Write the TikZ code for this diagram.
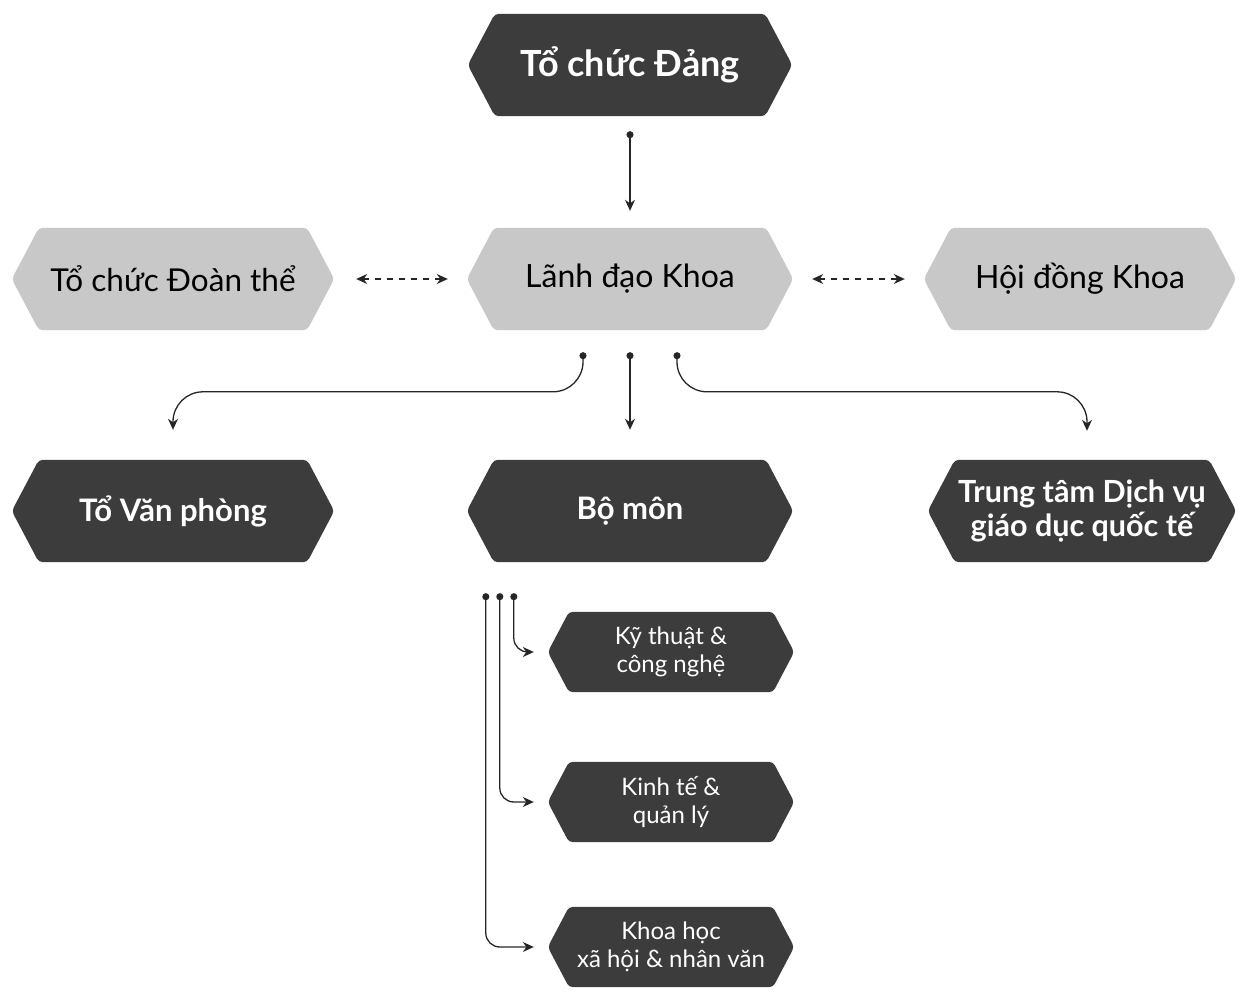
\documentclass[tikz,border=0pt]{standalone}
\usepackage{fontspec}
\setmainfont{Lato}
\usetikzlibrary{arrows.meta,backgrounds}
\definecolor{darkbox}{HTML}{3C3C3C}
\definecolor{lightbox}{HTML}{C8C8C8}
\definecolor{lineclr}{HTML}{262626}
\tikzset{
  darktxt/.style={text=white, font=\bfseries, align=center, inner sep=0pt},
  lighttxt/.style={text=black, align=center, inner sep=0pt},
  smalltxt/.style={text=white, align=center, inner sep=0pt, font=\fontsize{24}{28}\selectfont},
  conn/.style={draw=lineclr, line width=1.3pt, {Circle[length=7pt]}-{Stealth[length=11pt,width=10pt]}},
  dconn/.style={draw=lineclr, line width=1.3pt, dash pattern=on 6pt off 6pt, {Stealth[length=11pt,width=10pt]}-{Stealth[length=11pt,width=10pt]}}
}
% style, name, cx, cy, w, h, fill, text
\newcommand\hexnode[8]{%
  \node[#1, minimum width=#5pt, minimum height=#6pt] (#2) at (#3,#4) {#8};
  \begin{scope}[on background layer]
    \fill[#7, rounded corners=4pt] (#2.west) -- ([xshift={0.265*#6}]#2.north west) -- ([xshift={-0.265*#6}]#2.north east) -- (#2.east) -- ([xshift={-0.265*#6}]#2.south east) -- ([xshift={0.265*#6}]#2.south west) -- cycle;
  \end{scope}}
\begin{document}
\begin{tikzpicture}[x=1pt,y=-1pt]
\useasboundingbox (0,0) rectangle (1239,992);
% top
\hexnode{darktxt, font=\bfseries\fontsize{36}{40}\selectfont}{dang}{630}{65}{324}{102}{darkbox}{Tổ chức Đảng}
% row 2
\hexnode{lighttxt, font=\fontsize{31.5}{36}\selectfont}{doan}{173}{279}{322}{102}{lightbox}{Tổ chức Đoàn thể}
\hexnode{lighttxt, font=\fontsize{32}{36}\selectfont}{lanh}{630}{279}{326}{102}{lightbox}{Lãnh đạo Khoa}
\hexnode{lighttxt, font=\fontsize{32}{36}\selectfont}{hoi}{1080}{279}{312}{102}{lightbox}{Hội đồng Khoa}
% row 3
\hexnode{darktxt, font=\bfseries\fontsize{31}{34}\selectfont}{tvp}{173}{511}{322}{102}{darkbox}{Tổ Văn phòng}
\hexnode{darktxt, font=\bfseries\fontsize{31}{34}\selectfont}{bomon}{630}{511}{326}{102}{darkbox}{Bộ môn}
\hexnode{darktxt, font=\bfseries\fontsize{30.5}{34}\selectfont}{ttm}{1082}{511}{308}{102}{darkbox}{Trung tâm Dịch vụ\\giáo dục quốc tế}
% sub units
\hexnode{smalltxt}{ky}{671}{652}{246}{80}{darkbox}{Kỹ thuật \&\\công nghệ}
\hexnode{smalltxt}{kt}{671}{802}{246}{80}{darkbox}{Kinh tế \&\\quản lý}
\hexnode{smalltxt}{kh}{671}{947}{246}{80}{darkbox}{Khoa học\\xã hội \& nhân văn}
% connectors
\draw[conn] ([yshift=-15pt]dang.south) -- ([yshift=17pt]lanh.north);
\draw[dconn] ([xshift=22pt]doan.east) -- ([xshift=-19pt]lanh.west);
\draw[dconn] ([xshift=19pt]lanh.east) -- ([xshift=-19pt]hoi.west);
\coordinate (l1) at ([shift={(-47pt,-22pt)}]lanh.south);
\coordinate (l2) at ([yshift=-22pt]lanh.south);
\coordinate (l3) at ([shift={(47pt,-22pt)}]lanh.south);
\draw[conn, rounded corners=30pt] (l1) |- ([yshift=68pt]tvp.north) -- ([yshift=30pt]tvp.north);
\draw[conn] (l2) -- ([yshift=30pt]bomon.north);
\draw[conn, rounded corners=30pt] (l3) |- ([shift={(5pt,68pt)}]ttm.north) -- ([shift={(5pt,29pt)}]ttm.north);
\coordinate (b1) at ([shift={(19pt,-31pt)}]bomon.south west);
\coordinate (b2) at ([shift={(33pt,-31pt)}]bomon.south west);
\coordinate (b3) at ([shift={(47pt,-31pt)}]bomon.south west);
\draw[conn, rounded corners=14pt] (b3) |- ([xshift=-14pt]ky.west);
\draw[conn, rounded corners=14pt] (b2) |- ([xshift=-14pt]kt.west);
\draw[conn, rounded corners=14pt] (b1) |- ([xshift=-14pt]kh.west);
\end{tikzpicture}
\end{document}
